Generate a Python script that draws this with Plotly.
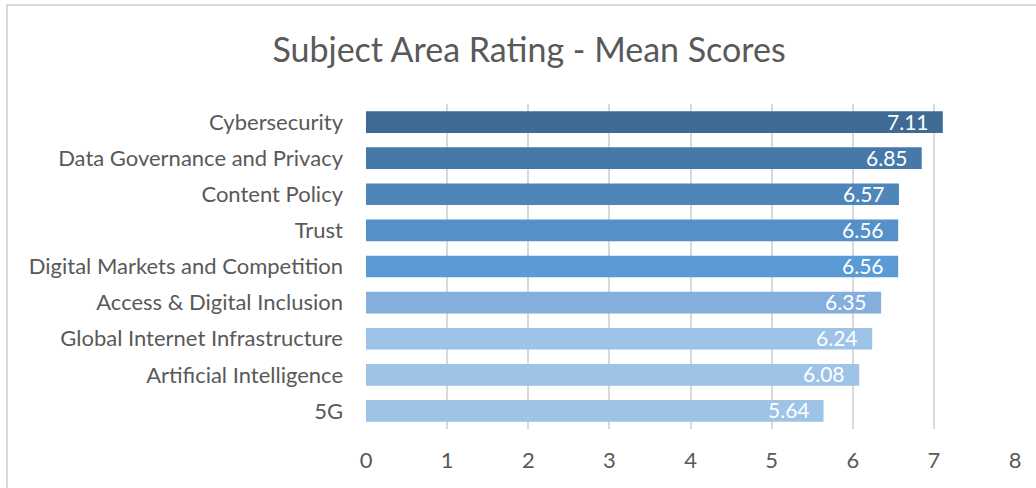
import plotly.graph_objects as go

categories = ["Cybersecurity", "Data Governance and Privacy", "Content Policy", "Trust",
              "Digital Markets and Competition", "Access & Digital Inclusion",
              "Global Internet Infrastructure", "Artificial Intelligence", "5G"]
scores = [7.11, 6.85, 6.57, 6.56, 6.56, 6.35, 6.24, 6.08, 5.64]
bar_colors = ["#3E6A94", "#4679AA", "#4E86BA", "#5591C8", "#5B9BD5",
              "#84AEDB", "#9DC3E6", "#9DC3E6", "#9DC3E6"]
x_ticks = [0, 1, 2, 3, 4, 5, 6, 7, 8]

W, H = 1036, 488
L, R, T, B = 366, 21, 104, 59

fig = go.Figure(go.Bar(
    y=categories, x=scores, orientation="h",
    marker=dict(color=bar_colors, line=dict(width=0)),
    width=0.6,
    hoverinfo="x+y",
))

for cat, v in zip(categories, scores):
    fig.add_annotation(x=v, y=cat, xref="x", yref="y", text=f"{v:.2f}",
                       showarrow=False, xanchor="right", yanchor="middle", xshift=-12, yshift=1,
                       font=dict(family="Lato", size=21, color="white"))

pw, ph = W - L - R, H - T - B
fig.add_shape(type="rect", xref="paper", yref="paper",
              x0=(7 - L) / pw, x1=(W + 10 - L) / pw,
              y0=(H - B - (H + 10)) / ph, y1=(H - B - 5) / ph,
              line=dict(color="#D9D9D9", width=2), fillcolor="rgba(0,0,0,0)", layer="below")

fig.update_layout(
    width=W, height=H,
    margin=dict(l=L, r=R, t=T, b=B),
    paper_bgcolor="white", plot_bgcolor="white",
    title=dict(text="Subject Area Rating - Mean Scores", x=529 / W, xref="container", xanchor="center",
               y=1 - 50 / H, yanchor="middle",
               font=dict(family="Lato", size=34, color="#595959")),
    font=dict(family="Lato", color="#595959"),
    showlegend=False,
)
fig.update_xaxes(range=[0, 8], tickvals=x_ticks, showgrid=True, gridcolor="#D9D9D9", gridwidth=2,
                 zeroline=False, showline=False, ticks="", ticklen=0,
                 ticklabelstandoff=16,
                 tickfont=dict(family="Lato", size=22, color="#595959"))
fig.update_yaxes(categoryorder="array", categoryarray=categories, autorange="reversed",
                 showgrid=False, zeroline=False, showline=False, ticks="",
                 ticklabelstandoff=22,
                 tickfont=dict(family="Lato", size=22, color="#595959"))

fig.write_html("out.html", config={"displayModeBar": False},
               post_script="document.body.style.margin='0';document.body.style.overflow='hidden';")
